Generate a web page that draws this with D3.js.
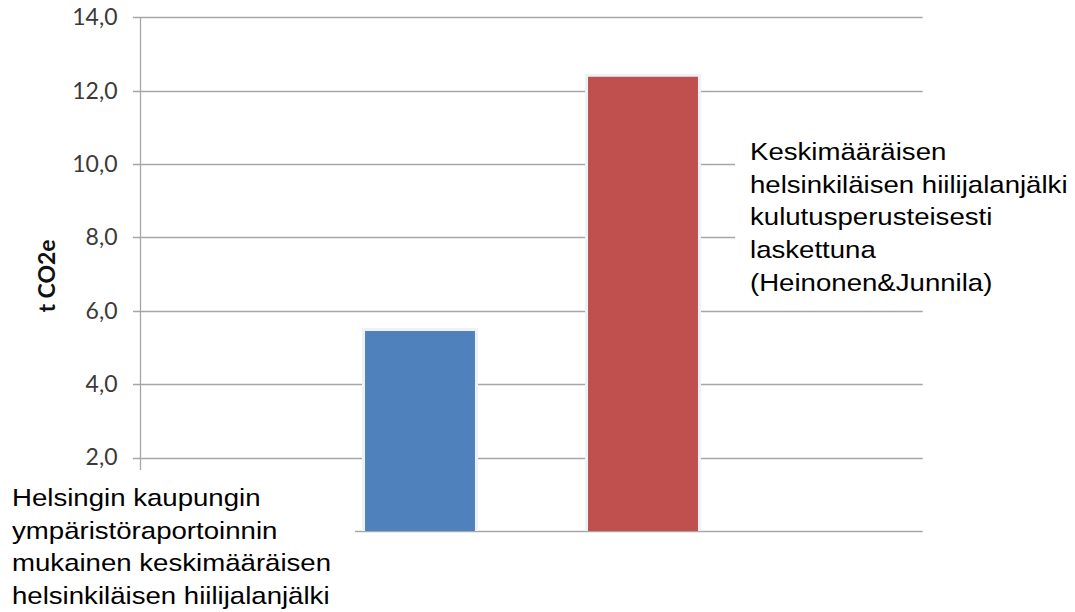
<!DOCTYPE html>
<html>
<head>
<meta charset="utf-8">
<script src="https://cdn.jsdelivr.net/npm/d3@7"></script>
<style>
  html, body { margin: 0; padding: 0; background: #fff; }
  svg { display: block; }
</style>
</head>
<body>
<script>
// data
const categories = ['Helsinki (ympäristöraportointi)', 'Kulutusperusteinen (Heinonen&Junnila)'];
const values = [5.45, 12.38];
const colors = ['#4f81bd', '#c0504d'];
const yTicks = [0, 2, 4, 6, 8, 10, 12, 14];
const yTickLabels = [2, 4, 6, 8, 10, 12, 14]; // the 0 label is hidden under the note box
const yLabel = 't CO2e';
const leftNote = ['Helsingin kaupungin', 'ympäristöraportoinnin', 'mukainen keskimääräisen', 'helsinkiläisen hiilijalanjälki'];
const rightNote = ['Keskimääräisen', 'helsinkiläisen hiilijalanjälki', 'kulutusperusteisesti', 'laskettuna', '(Heinonen&Junnila)'];

const W = 1075, H = 612;
const axisX = 140.5, plotRight = 922.7;

const svg = d3.select('body').append('svg')
  .attr('width', W)
  .attr('height', H);

const y = d3.scaleLinear()
  .domain([0, 14])
  .range([531, 17.3]);

const x = d3.scaleBand()
  .domain(categories)
  .range([308.5, 754.5])
  .paddingInner(0.507)
  .paddingOuter(0.2535);

// gridlines (incl. the little tick stubs left of the axis)
svg.append('g')
  .selectAll('line')
  .data(yTicks)
  .enter()
  .append('line')
  .attr('x1', 133)
  .attr('x2', plotRight)
  .attr('y1', d => Math.round(y(d)) + 0.5)
  .attr('y2', d => Math.round(y(d)) + 0.5)
  .attr('stroke', '#a6a6a6')
  .attr('stroke-width', 1.3);

// vertical axis
svg.append('line')
  .attr('x1', axisX).attr('x2', axisX)
  .attr('y1', y(14)).attr('y2', y(0))
  .attr('stroke', '#a6a6a6')
  .attr('stroke-width', 1.3);

// tick labels
const fmt = d => d3.format('.1f')(d).replace('.', ',');
const axis = svg.append('g')
  .attr('transform', `translate(${axisX},0)`)
  .call(d3.axisLeft(y).tickValues(yTickLabels).tickSize(0).tickPadding(23).tickFormat(fmt));
axis.select('.domain').remove();
axis.selectAll('text')
  .attr('font-family', 'Lato, sans-serif')
  .attr('font-size', 23)
  .attr('fill', '#3a3a3a');

// axis title
svg.append('text')
  .attr('transform', 'translate(55,276) rotate(-90)')
  .attr('text-anchor', 'middle')
  .attr('font-family', 'Lato, sans-serif')
  .attr('font-weight', 'bold')
  .attr('font-size', 23)
  .attr('fill', '#111')
  .text(yLabel);

// bars, with a faint halo
const bars = svg.append('g')
  .selectAll('g')
  .data(values)
  .enter()
  .append('g');

bars.append('rect')
  .attr('x', (d, i) => x(categories[i]) - 3)
  .attr('y', d => y(d) - 3)
  .attr('width', x.bandwidth() + 6)
  .attr('height', d => y(0) - y(d) + 3)
  .attr('fill', '#edf2f8');

bars.append('rect')
  .attr('x', (d, i) => x(categories[i]))
  .attr('y', d => y(d))
  .attr('width', x.bandwidth())
  .attr('height', d => y(0) - y(d))
  .attr('fill', (d, i) => colors[i]);

// annotation boxes sit on top of the chart
svg.append('rect')
  .attr('x', 0).attr('y', 470)
  .attr('width', 355).attr('height', H - 470)
  .attr('fill', '#fff');
svg.append('rect')
  .attr('x', 735).attr('y', 130)
  .attr('width', W - 735).attr('height', 172)
  .attr('fill', '#fff');

function note(lines, x0, y0) {
  const g = svg.append('g')
    .attr('transform', `translate(${x0},${y0}) scale(1.15,1)`);
  g.selectAll('text')
    .data(lines)
    .enter()
    .append('text')
    .attr('x', 0)
    .attr('y', (d, i) => i * 32.7)
    .attr('font-family', '"Liberation Sans", Arial, sans-serif')
    .attr('font-size', 24)
    .attr('fill', '#000')
    .text(d => d);
}
note(leftNote, 12, 506);
note(rightNote, 750, 160);
</script>
</body>
</html>
